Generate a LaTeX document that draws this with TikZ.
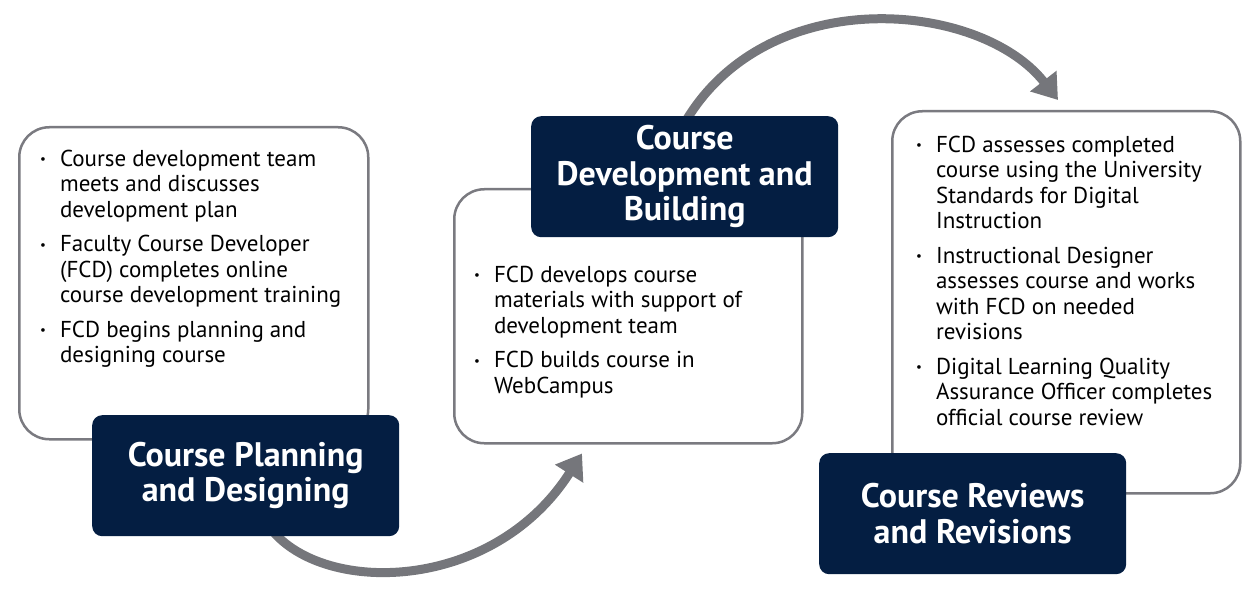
\documentclass[tikz,border=0pt]{standalone}
\usepackage{fontspec}
\setmainfont{PT Sans}
\usetikzlibrary{positioning, arrows.meta, backgrounds}

\definecolor{navy}{HTML}{041E42}
\definecolor{rimgray}{HTML}{7A7A80}
\definecolor{arrowgray}{HTML}{75767B}

\newcommand{\dotitem}{\raisebox{2.5pt}{\fontsize{13}{13}\selectfont\textbullet}}
\newcommand{\steplist}[1]{\fontsize{23}{25.5}\selectfont
  \begin{tabular}{@{}l@{\hspace{14pt}}l@{}}#1\end{tabular}}

\begin{document}
\begin{tikzpicture}[
  x=1pt, y=-1pt,
  panel/.style={draw=rimgray, line width=2.5pt, fill=white, rounded corners=30pt,
    anchor=north west, inner sep=0pt},
  phase/.style={fill=navy, text=white, rounded corners=10pt, anchor=north west,
    align=center, font=\fontsize{34}{35.5}\selectfont\bfseries,
    minimum width=307pt, minimum height=121pt, inner sep=0pt},
  items/.style={anchor=north west, inner sep=0pt, align=left},
  cyclearrow/.style={draw=arrowgray, line width=9pt,
    -{Triangle[length=24pt, width=32pt]}},
]
\useasboundingbox (0,0) rectangle (1254,591);

% white panels
\node[panel, minimum width=349pt, minimum height=312pt] (planbox) at (18,126) {};
\node[panel, minimum width=348pt, minimum height=254pt] (devbox) at (453,188) {};
\node[panel, minimum width=348pt, minimum height=382pt] (reviewbox) at (891,110) {};

% bullet texts
\node[items] (plantext) at (40,148) {\steplist{
  \dotitem & Course development team\\
           & meets and discusses\\
           & development plan\\[9pt]
  \dotitem & Faculty Course Developer\\
           & (FCD) completes online\\
           & course development training\\[9pt]
  \dotitem & FCD begins planning and\\
           & designing course}};
\node[items] (devtext) at (474,264) {\steplist{
  \dotitem & FCD develops course\\
           & materials with support of\\
           & development team\\[9pt]
  \dotitem & FCD builds course in\\
           & WebCampus}};
\node[items] (reviewtext) at (916,134) {\steplist{
  \dotitem & FCD assesses completed\\
           & course using the University\\
           & Standards for Digital\\
           & Instruction\\[9pt]
  \dotitem & Instructional Designer\\
           & assesses course and works\\
           & with FCD on needed\\
           & revisions\\[9pt]
  \dotitem & Digital Learning Quality\\
           & Assurance Officer completes\\
           & official course review}};

% navy phase titles
\node[phase] (plan) at (92,415) {Course Planning\\and Designing};
\node[phase] (dev) at (531,116) {Course\\Development and\\Building};
\node[phase] (review) at (819,453) {Course Reviews\\and Revisions};

% arrows behind the titles
\begin{scope}[on background layer]
\draw[cyclearrow] ([shift={(20,-15)}]plan.south)
  .. controls +(45,74) and +(-92,144) .. ([shift={(129,9)}]devbox.south west);
\draw[cyclearrow] ([shift={(-4,14)}]dev.north)
  .. controls +(80,-150) and +(-78,-100) .. ([shift={(167,-10)}]reviewbox.north west);
\end{scope}
\end{tikzpicture}
\end{document}
